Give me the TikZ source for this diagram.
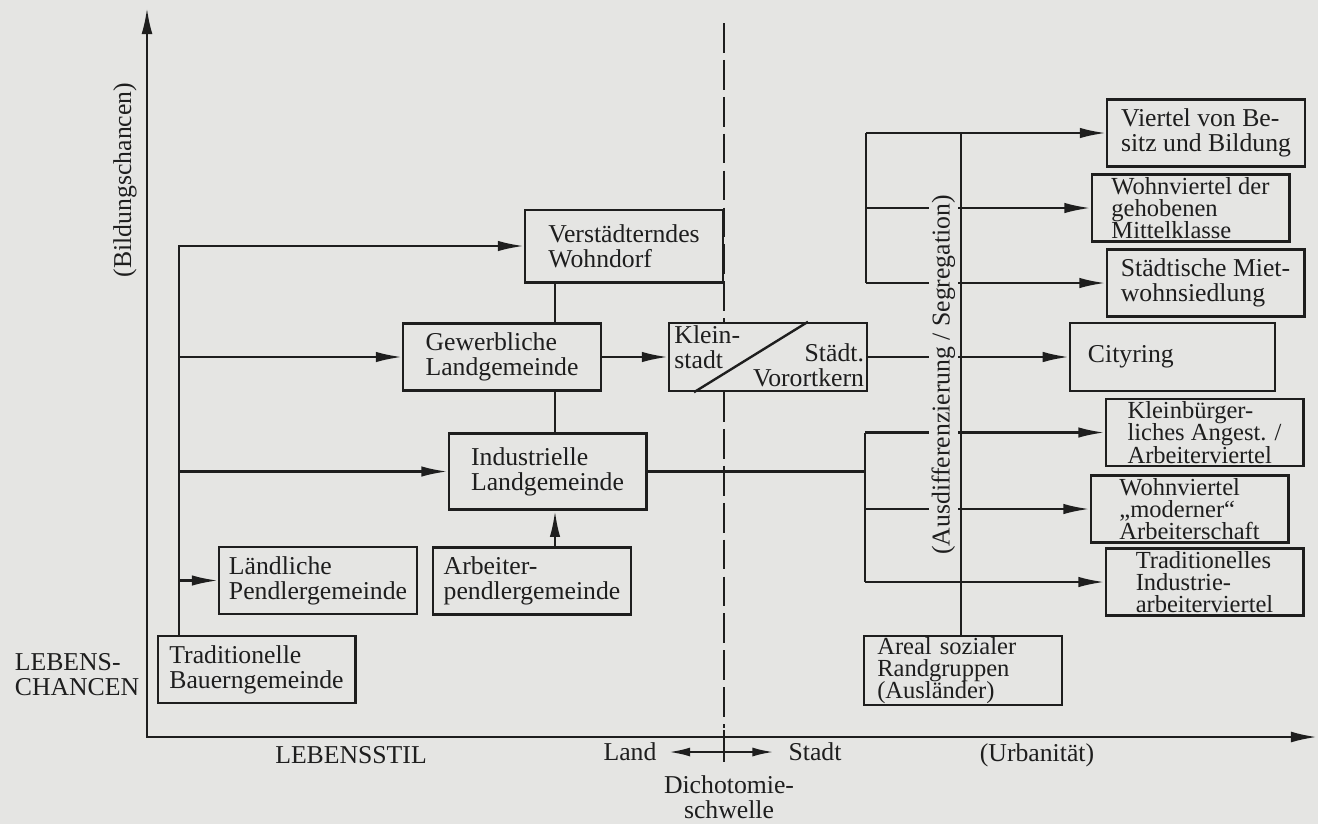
\documentclass[tikz,border=0pt]{standalone}
\usepackage{fontspec}
\setmainfont{Liberation Serif}
\usepackage{tikz}
\usetikzlibrary{arrows.meta,positioning}
\definecolor{paper}{RGB}{229,229,227}
\definecolor{ink}{RGB}{30,30,30}

\begin{document}
\begin{tikzpicture}[x=0.42pt,y=-0.42pt,
  every node/.style={text=ink},
  gbox/.style={draw=ink, line width=1pt, fill=paper, align=left, inner sep=1pt,
    minimum width=83pt, minimum height=28pt, font=\fontsize{10.8}{10.5}\selectfont},
  tbox/.style={gbox, inner ysep=0.3pt, font=\fontsize{10.3}{9.4}\selectfont},
  link/.style={draw=ink, line width=1pt},
  arr/.style={link, -{Latex[length=11pt,width=4.4pt]}},
  sarr/.style={link, -{Latex[length=9pt,width=3.8pt]}},
  axis/.style={link, {Latex[length=11pt,width=4.6pt]}-{Latex[length=11pt,width=4.6pt]}},
  lbl/.style={font=\fontsize{10.8}{10.5}\selectfont, inner sep=1pt}]

% Hintergrund
\fill[paper] (0,0) rectangle (1318,824);
\useasboundingbox (0,0) rectangle (1318,824);

% Achsen
\coordinate (O) at (147,737);
\coordinate (ytip) at (147,8);
\coordinate (xtip) at (1317,737);
\draw[axis] (ytip) -- (O) -- (xtip);

% Dichotomieschwelle
\coordinate (dtop) at (724,23);
\coordinate (dbot) at (724,728);
\coordinate (tickT) at (724,730);
\coordinate (tickB) at (724,762);
\draw[ink, line width=1pt, dash pattern=on 12.5pt off 3pt] (dtop) -- (dbot);
\draw[link] (tickT) -- (tickB);

% Gemeindetypen
\node[gbox] (bauern) at (256.5,669.5) {Traditionelle\\Bauerngemeinde};
\node[gbox] (laendl) at (318,580.5) {Ländliche\\Pendlergemeinde};
\node[gbox] (arbpend) at (532,581) {Arbeiter-\\pendlergemeinde};
\node[gbox, minimum height=32pt] (indust) at (547.5,471.5) {Industrielle\\Landgemeinde};
\node[gbox] (gewerb) at (502,357) {Gewerbliche\\Landgemeinde};
\node[gbox, minimum height=30.5pt] (verst) at (624,246) {Verstädterndes\\Wohndorf};
\node[gbox, minimum height=28.6pt] (klein) at (768,357) {};
\draw[link] ([xshift=10.9pt]klein.south west) -- ([xshift=-25.2pt]klein.north east);
\node[lbl, anchor=north west, align=left] (kltxt) at ([xshift=1.5pt,yshift=-0.5pt]klein.north west) {Klein-\\stadt};
\node[lbl, anchor=south east, align=right] (vorort) at ([xshift=-0.5pt,yshift=1pt]klein.south east) {Städt.\\Vorortkern};

% Viertel
\node[gbox] (viertel) at (1206,133) {Viertel von Be-\\sitz und Bildung};
\node[tbox] (gehoben) at (1190.5,208) {Wohnviertel der\\gehobenen\\Mittelklasse};
\node[gbox] (miet) at (1205.5,283) {Städtische Miet-\\wohnsiedlung};
\node[gbox, text width=71pt, inner xsep=7.5pt, minimum height=28.6pt] (city) at (1172.5,357) {Cityring};
\node[tbox] (kleinb) at (1204.5,432.5) {Kleinbürger-\\liches Angest. /\\Arbeiterviertel};
\node[tbox] (modern) at (1189.5,509) {Wohnviertel\\„moderner“\\Arbeiterschaft};
\node[tbox] (tradind) at (1204.5,582) {Traditionelles\\Industrie-\\arbeiterviertel};
\node[tbox, text width=72pt, inner xsep=5.5pt] (areal) at (963,670.5) {Areal sozialer\\Randgruppen\\(Ausländer)};

% Verbindungen links
\coordinate (trunk) at (179,0);
\coordinate (vcon) at (555,0);
\draw[arr] (bauern.north -| trunk) |- (verst.west);
\draw[arr] (trunk |- gewerb.west) -- (gewerb.west);
\draw[arr] (trunk |- indust.west) -- (indust.west);
\draw[arr] (trunk |- laendl.west) -- (laendl.west);
\draw[link] (verst.south -| vcon) -- (gewerb.north -| vcon);
\draw[link] (gewerb.south -| vcon) -- (indust.north -| vcon);
\draw[arr] (arbpend.north -| vcon) -- (indust.south -| vcon);
\draw[arr] (gewerb.east) -- (klein.west);

% Verbindungen rechts
\coordinate (upx) at (866,0);
\coordinate (lowx) at (865,0);
\coordinate (segx) at (961,0);
\draw[link] (upx |- viertel.west) -- (upx |- miet.west);
\draw[arr] (upx |- viertel.west) -- (viertel.west);
\draw[arr] (upx |- gehoben.west) -- (gehoben.west);
\draw[arr] (upx |- miet.west) -- (miet.west);
\draw[arr] (klein.east) -- (city.west);
\draw[link] (indust.east) -- (indust.east -| lowx);
\draw[link] (lowx |- kleinb.west) -- (lowx |- tradind.west);
\draw[arr] (lowx |- kleinb.west) -- (kleinb.west);
\draw[arr] (lowx |- modern.west) -- (modern.west);
\draw[arr] (lowx |- tradind.west) -- (tradind.west);
\node[lbl, fill=paper, rotate=90, anchor=south, inner xsep=3pt] (segr) at (958,375) {(Ausdifferenzierung / Segregation)};
\draw[link] (segx |- viertel.west) -- (areal.north -| segx);

% Achsenbeschriftung
\node[lbl, rotate=90] (bildung) at (125,180) {(Bildungschancen)};
\node[lbl, anchor=west, align=left] (lchance) at (12,675) {LEBENS-\\CHANCEN};
\node[lbl] (lstil) at (351,755) {LEBENSSTIL};
\node[lbl] (land) at (630,752) {Land};
\node[lbl] (stadt) at (815,752) {Stadt};
\node[lbl] (urban) at (1037,755) {(Urbanität)};
\node[lbl, align=center] (dicho) at (729,797) {Dichotomie-\\schwelle};
\draw[sarr, shorten >=4pt] (tickT |- land.east) -- (land.east);
\draw[sarr, shorten >=5pt] (tickT |- stadt.west) -- (stadt.west);
\end{tikzpicture}
\end{document}
